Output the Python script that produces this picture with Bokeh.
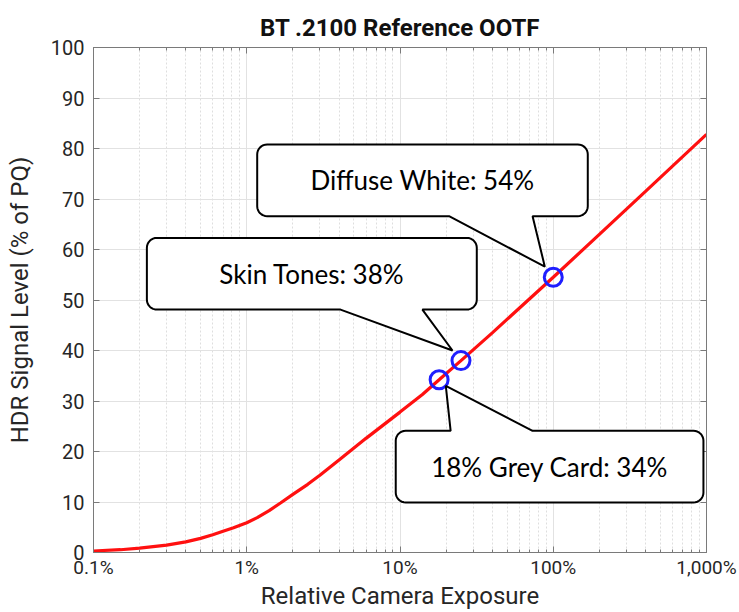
import numpy as np
from bokeh.plotting import figure
from bokeh.models import (LogAxis, LinearAxis, FixedTicker, PolyAnnotation, Label)
from bokeh.embed import file_html
from bokeh.resources import INLINE

# ---------------- data ----------------
exposure_pct = [0.1, 0.15, 0.2, 0.3, 0.4, 0.5, 0.6, 0.7, 0.82, 1, 1.17, 1.4,
                1.66, 2, 2.5, 3, 4, 6, 10, 14, 18, 25, 40, 100, 200, 400, 1000]
signal_pct = [0.3, 0.55, 0.85, 1.45, 2.1, 2.8, 3.5, 4.2, 4.9, 5.9, 6.9, 8.3,
              9.8, 11.5, 13.5, 15.3, 18.3, 22.6, 27.8, 31.3, 34.2, 38.0, 43.5,
              54.5, 63.0, 71.5, 82.8]

marker_names = ["18% Grey Card", "Skin Tones", "Diffuse White"]
marker_exposure = [18, 25, 100]
marker_signal = [34.2, 38.0, 54.5]
marker_label_pct = [34, 38, 54]

x_major_ticks = [0.1, 1, 10, 100, 1000]
x_tick_labels = ["0.1%", "1%", "10%", "100%", "1,000%"]
x_minor_mult = [2, 3, 4, 5, 6, 7, 8, 9]
y_ticks = [0, 10, 20, 30, 40, 50, 60, 70, 80, 90, 100]

AX_FONT = "Roboto"
AXIS_COLOR = "#7a7a7a"
TEXT_COLOR = "#262626"

p = figure(x_axis_type="log", x_range=(0.1, 1000), y_range=(0, 100),
           width=739, height=612,
           min_border_left=93, min_border_right=33,
           min_border_top=47, min_border_bottom=55,
           output_backend="svg", toolbar_location=None,
           title="BT .2100 Reference OOTF",
           background_fill_color="white", border_fill_color="white")

p.title.align = "center"
p.title.text_font = AX_FONT
p.title.text_font_style = "bold"
p.title.text_font_size = "24px"
p.title.text_color = "#111111"
p.title.standoff = 11

minor = [m * t for t in x_major_ticks[:-1] for m in x_minor_mult]
xticker = FixedTicker(ticks=x_major_ticks, minor_ticks=minor)
yticker = FixedTicker(ticks=y_ticks, minor_ticks=[])

xa = p.xaxis[0]
xa.ticker = xticker
xa.major_label_overrides = {t: l for t, l in zip(x_major_ticks, x_tick_labels)}
xa.axis_label = "Relative Camera Exposure"
xa.axis_label_standoff = 0
ya = p.yaxis[0]
ya.ticker = yticker
ya.axis_label = "HDR Signal Level (% of PQ)"
ya.axis_label_standoff = 14

for ax in (xa, ya):
    ax.axis_label_text_font = AX_FONT
    ax.axis_label_text_font_size = "24px"
    ax.axis_label_text_font_style = "normal"
    ax.axis_label_text_color = TEXT_COLOR
    ax.major_label_text_font = AX_FONT
    ax.major_label_text_font_size = "20px"
    ax.major_label_text_color = TEXT_COLOR
    ax.axis_line_color = AXIS_COLOR
    ax.major_tick_line_color = AXIS_COLOR
    ax.minor_tick_line_color = AXIS_COLOR
    ax.major_tick_in = 6
    ax.major_tick_out = 0
    ax.minor_tick_in = 3
    ax.minor_tick_out = 0
xa.major_label_text_font_size = "19px"
xa.major_label_standoff = 3
ya.major_label_standoff = 9

# mirrored axes (ticks only) on top and right
top_ax = LogAxis(ticker=xticker, major_label_text_font_size="1px",
                 major_label_text_alpha=0, major_label_standoff=0)
right_ax = LinearAxis(ticker=yticker, major_label_text_font_size="1px",
                      major_label_text_alpha=0, major_label_standoff=0)
for ax in (top_ax, right_ax):
    ax.axis_line_color = AXIS_COLOR
    ax.major_tick_line_color = AXIS_COLOR
    ax.minor_tick_line_color = AXIS_COLOR
    ax.major_tick_in = 6
    ax.major_tick_out = 0
    ax.minor_tick_in = 3
    ax.minor_tick_out = 0
p.add_layout(top_ax, "above")
p.add_layout(right_ax, "right")

p.outline_line_color = AXIS_COLOR

p.xgrid.ticker = xticker
p.ygrid.ticker = yticker
p.xgrid.grid_line_color = "#e2e2e2"
p.xgrid.minor_grid_line_color = "#dedede"
p.xgrid.minor_grid_line_dash = "2 2"
p.ygrid.grid_line_color = "#e2e2e2"

# ---------------- curve and markers ----------------
p.line(exposure_pct, signal_pct, line_color="#ff1010", line_width=3.2)
p.scatter(marker_exposure, marker_signal, marker="circle", size=18,
          fill_color=None, line_color="#1f1fff", line_width=3)

# ---------------- callouts ----------------
PX_DEC = 153.25  # shape helper: pixels per decade
PX_UNIT = 5.1    # shape helper: pixels per signal unit


def bubble(left, right, top, bottom, base1, base2, tip, side, r=10):
    L, R = np.log10(left) * PX_DEC, np.log10(right) * PX_DEC
    T, B = top * PX_UNIT, bottom * PX_UNIT
    b1, b2 = np.log10(base1) * PX_DEC, np.log10(base2) * PX_DEC
    tx, ty = np.log10(tip[0]) * PX_DEC, tip[1] * PX_UNIT
    pts = []

    def arc(cx, cy, a0, a1):
        for a in np.linspace(a0, a1, 9):
            pts.append((cx + r * np.cos(a), cy + r * np.sin(a)))

    arc(L + r, T - r, np.pi, np.pi / 2)
    if side == "top":
        pts.extend([(b1, T), (tx, ty), (b2, T)])
    arc(R - r, T - r, np.pi / 2, 0)
    arc(R - r, B + r, 0, -np.pi / 2)
    if side == "bottom":
        pts.extend([(b2, B), (tx, ty), (b1, B)])
    arc(L + r, B + r, -np.pi / 2, -np.pi)
    xs = [float(10 ** (u / PX_DEC)) for u, _ in pts]
    ys = [float(v / PX_UNIT) for _, v in pts]
    return xs, ys


callouts = [
    # name index, box (left, right, top, bottom), pointer base x1, x2, tip, side
    (0, (9.38, 955, 24.1, 9.9), 21.4, 73.3, (19.9, 33.0), "top"),
    (1, (0.223, 31.7, 62.3, 48.1), 4.09, 14.0, (22.0, 40.0), "bottom"),
    (2, (1.17, 168, 80.8, 66.6), 20.9, 73.3, (88.1, 56.6), "bottom"),
]

for idx, (l, r_, t, b), bx1, bx2, tip, side in callouts:
    xs, ys = bubble(l, r_, t, b, bx1, bx2, tip, side)
    p.add_layout(PolyAnnotation(xs=xs, ys=ys, xs_units="data", ys_units="data",
                                fill_color="white", fill_alpha=1.0,
                                line_color="black", line_alpha=1.0,
                                line_width=2))
    cx = float(10 ** ((np.log10(l) + np.log10(r_)) / 2))
    cy = (t + b) / 2
    p.add_layout(Label(x=cx, y=cy,
                       text=f"{marker_names[idx]}: {marker_label_pct[idx]}%",
                       text_font="Lato", text_font_size="26px",
                       text_color="black", text_align="center",
                       text_baseline="middle"))

open("out.html", "w").write(file_html(p, INLINE))
